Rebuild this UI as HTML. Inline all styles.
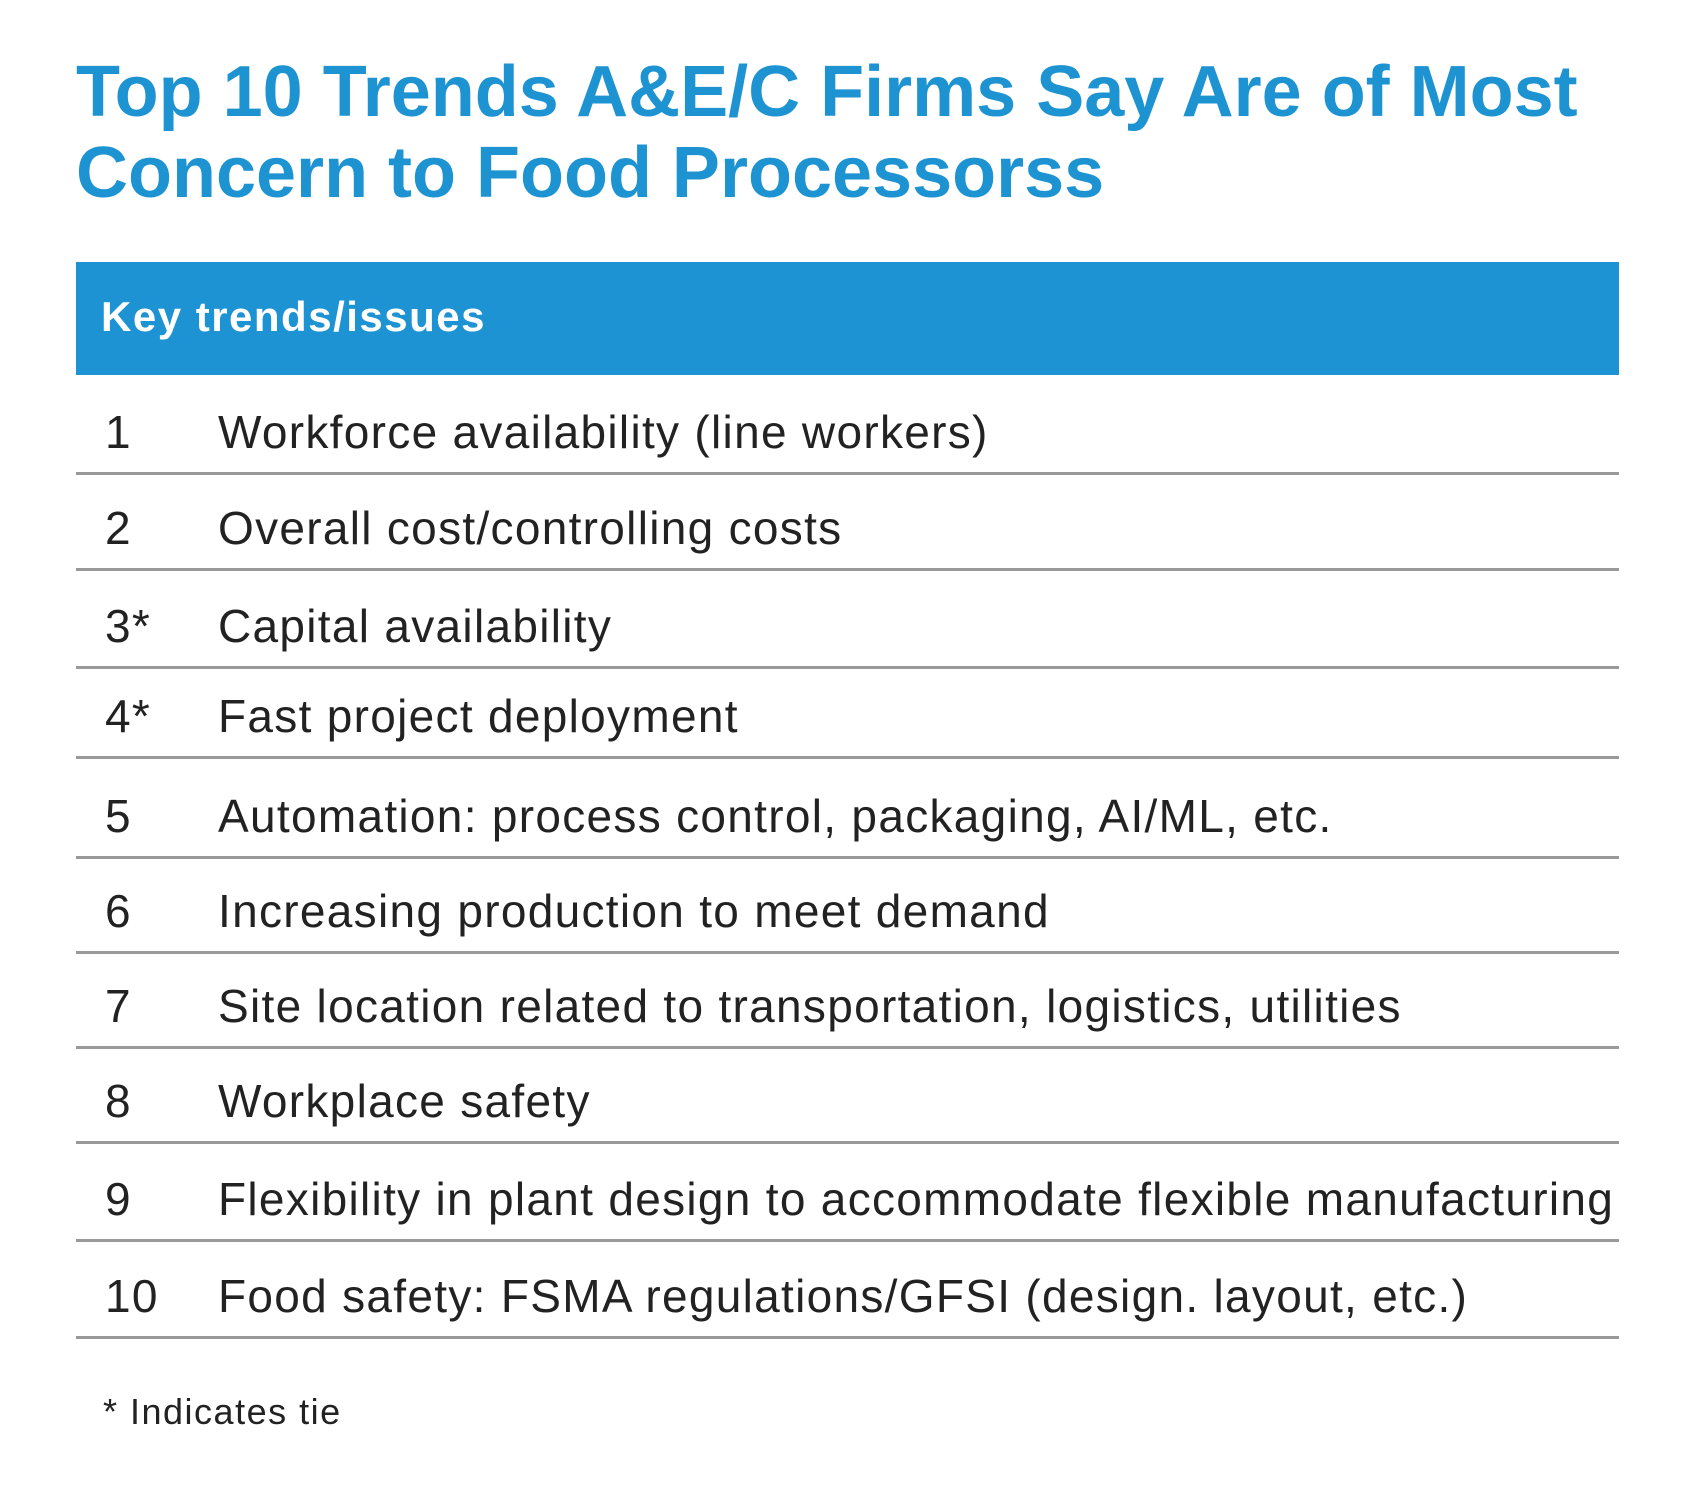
<!DOCTYPE html>
<html><head><meta charset="utf-8"><style>
body{margin:0;width:1696px;height:1505px;background:#fff;position:relative;overflow:hidden;font-family:"Liberation Sans",sans-serif}
.t{position:absolute;left:76px;top:52px;color:#1e93d2;font-weight:bold;font-size:72px;line-height:81px;margin:0;white-space:nowrap}
.hdr{position:absolute;left:76px;top:262px;width:1543px;height:113px;background:#1e93d3}
.hdr span{position:absolute;left:25px;top:34px;color:#fff;font-weight:bold;font-size:42px;line-height:42px;letter-spacing:1.5px}
.row{position:absolute;left:76px;width:1543px;height:0}
.row .n,.row .x{position:absolute;font-size:46px;line-height:46px;color:#222;white-space:nowrap;letter-spacing:1.3px}
.row .n{left:29px}.row .x{left:142px}
.sep{position:absolute;left:76px;width:1543px;height:3px;background:#999}
.foot{position:absolute;left:103px;top:1394px;font-size:36px;line-height:36px;color:#222;letter-spacing:1.5px}
</style></head><body>
<h1 class="t">Top 10 Trends A&amp;E/C Firms Say Are of Most<br>Concern to Food Processorss</h1>
<div class="hdr"><span>Key trends/issues</span></div>
<div id="rows"></div>
<div class="foot">* Indicates tie</div>
<script>
const ranks=["1","2","3*","4*","5","6","7","8","9","10"];
const trends=["Workforce availability (line workers)","Overall cost/controlling costs","Capital availability","Fast project deployment","Automation: process control, packaging, AI/ML, etc.","Increasing production to meet demand","Site location related to transportation, logistics, utilities","Workplace safety","Flexibility in plant design to accommodate flexible manufacturing","Food safety: FSMA regulations/GFSI (design. layout, etc.)"];
const seps=[473,569,667,757,857,952,1047,1142,1240,1337];
const c=document.getElementById('rows');
ranks.forEach((r,i)=>{
  const row=document.createElement('div');
  
  
  row.className='row';row.style.top=(seps[i]-25-39)+'px';
  const n=document.createElement('div');n.className='n';n.textContent=r;
  
  
  const x=document.createElement('div');x.className='x';x.textContent=trends[i];
  
  
  row.appendChild(n);row.appendChild(x);c.appendChild(row);
  const s=document.createElement('div');s.className='sep';s.style.top=(seps[i]-1)+'px';
  
  
  c.appendChild(s);
});
</script>
</body></html>
